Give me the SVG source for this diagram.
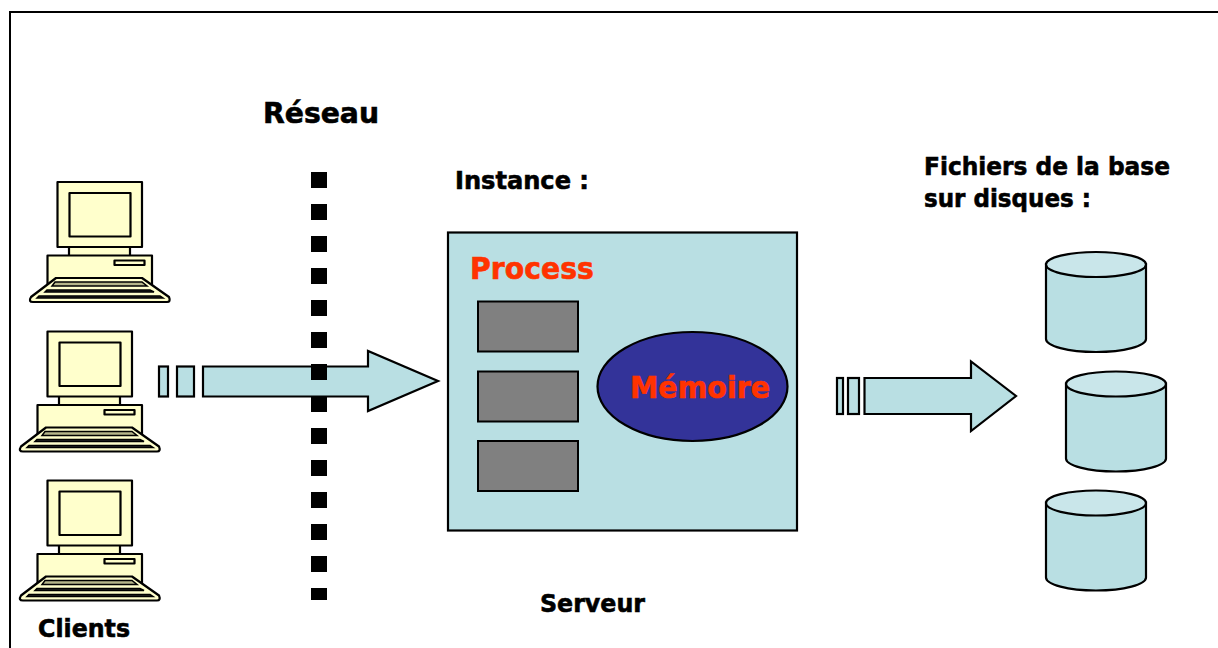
<svg xmlns="http://www.w3.org/2000/svg" width="1218" height="648" viewBox="0 0 1218 648">
<style>
text{font-family:"DejaVu Sans","Noto Sans",sans-serif;font-weight:bold;fill:#000;stroke:#000;stroke-width:.6}
.s{stroke:#000;stroke-width:2.200;fill:#b9dfe3;stroke-linejoin:miter}
.c{stroke:#000;stroke-width:2.200;fill:#ffffcc;stroke-linejoin:round}
.g{fill:#808080;stroke:#000;stroke-width:2}
text.o{fill:#ff3300;stroke:#ff3300}
</style>
<defs>
<g id="pc">
<rect class="c" x="69" y="245" width="61" height="12"/>
<rect class="c" x="47.500" y="255.500" width="104.500" height="30"/>
<rect class="c" x="114.500" y="260.500" width="30" height="4.500"/>
<rect class="c" x="57.500" y="182" width="84.500" height="65"/>
<rect class="c" x="69.500" y="193" width="61" height="43.500"/>
<path class="c" d="M56 278H142L169 297Q171 302 167 302H33Q28 302 31 297Z"/>
<path d="M55 282H142L147 286H52Z" fill="#b5b58a" stroke="#000" stroke-width="1.500"/>
<path d="M47 290H150L154 292H45Z" fill="#333" stroke="#000" stroke-width="1.500"/>
<path d="M39 296H160L163 298H37Z" fill="#333" stroke="#000" stroke-width="1.500"/>
</g>
<g id="cyl">
<path class="s" d="M0 12V87C0 94 22 100 50 100S100 94 100 87V12Z"/>
<ellipse class="s" cx="50" cy="12.500" rx="50" ry="12.500" style="fill:#c9e6ea"/>
</g>
<rect id="d" x="311" width="16" height="16"/>
</defs>
<path d="M10 648V12H1218" fill="none" stroke="#000" stroke-width="2"/>
<g id="clients">
<use href="#pc"/>
<use href="#pc" transform="translate(-10,149.500)"/>
<use href="#pc" transform="translate(-10,298.500)"/>
<text x="38" y="637" font-size="25" textLength="92" lengthAdjust="spacingAndGlyphs">Clients</text>
</g>
<g id="connectors">
<rect class="s" x="159" y="366.500" width="9" height="30"/>
<rect class="s" x="177" y="366.500" width="17" height="30"/>
<path class="s" d="M203 366.500H368V351L438 381L368 411V396.500H203Z"/>
<rect class="s" x="837" y="378" width="6" height="36"/>
<rect class="s" x="848" y="378" width="11" height="36"/>
<path class="s" d="M864.500 378H971V361.500L1016 396L971 431V414H864.500Z"/>
</g>
<g id="reseau">
<use href="#d" y="172"/><use href="#d" y="204"/><use href="#d" y="236"/><use href="#d" y="268"/><use href="#d" y="300"/>
<use href="#d" y="332"/><use href="#d" y="364"/><use href="#d" y="396"/><use href="#d" y="428"/><use href="#d" y="460"/>
<use href="#d" y="492"/><use href="#d" y="524"/><use href="#d" y="556"/><rect x="311" y="588" width="16" height="12"/>
<text x="263" y="123" font-size="29" textLength="116" lengthAdjust="spacingAndGlyphs">Réseau</text>
</g>
<g id="instance">
<text x="455" y="189" font-size="25" textLength="134" lengthAdjust="spacingAndGlyphs">Instance :</text>
<rect x="448" y="232.500" width="349" height="298" fill="#b9dfe3" stroke="#000" stroke-width="2.200"/>
<text class="o" x="470" y="279" font-size="30" textLength="124" lengthAdjust="spacingAndGlyphs">Process</text>
<rect class="g" x="478" y="301.500" width="100" height="50"/>
<rect class="g" x="478" y="371.500" width="100" height="50"/>
<rect class="g" x="478" y="441" width="100" height="50"/>
</g>
<g id="memoire">
<ellipse cx="692.500" cy="386.500" rx="95" ry="54.500" fill="#333399" stroke="#000" stroke-width="2.200"/>
<text class="o" x="630" y="398" font-size="30" textLength="140" lengthAdjust="spacingAndGlyphs">Mémoire</text>
</g>
<g id="serveur"><text x="540" y="612" font-size="25" textLength="105" lengthAdjust="spacingAndGlyphs">Serveur</text></g>
<g id="fichiers">
<text x="924" y="175" font-size="25" textLength="246" lengthAdjust="spacingAndGlyphs">Fichiers de la base</text>
<text x="924" y="207" font-size="25" textLength="167" lengthAdjust="spacingAndGlyphs">sur disques :</text>
<use href="#cyl" transform="translate(1046,252)"/>
<use href="#cyl" transform="translate(1066,371.500)"/>
<use href="#cyl" transform="translate(1046,490.500)"/>
</g>
</svg>
